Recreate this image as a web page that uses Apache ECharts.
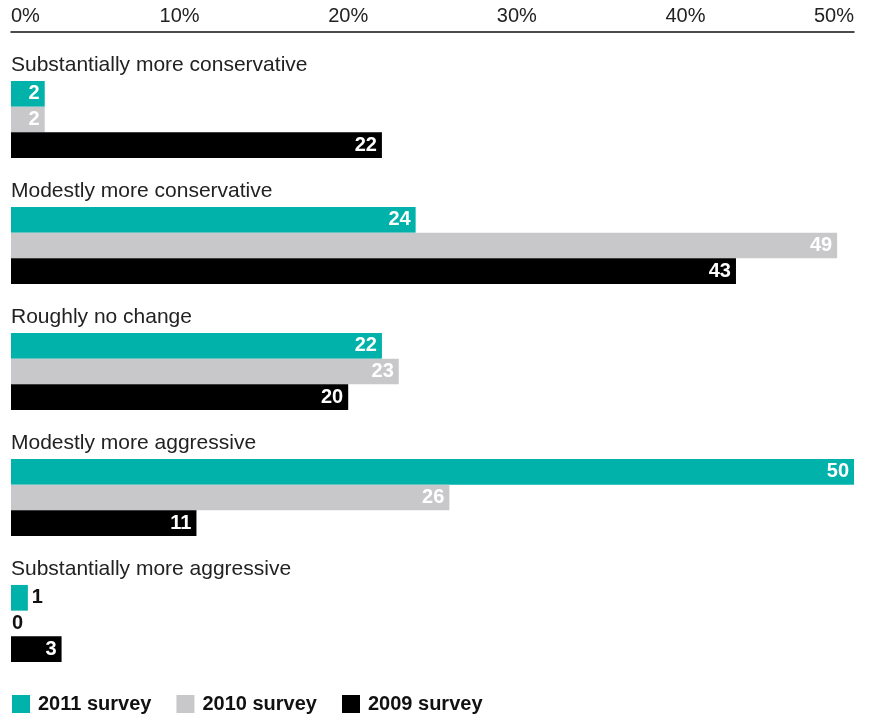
<!DOCTYPE html>
<html>
<head>
<meta charset="utf-8">
<script src="https://cdn.jsdelivr.net/npm/echarts@6/dist/echarts.min.js"></script>
<style>
  html, body { margin: 0; padding: 0; background: #fff; }
  #main { width: 869px; height: 715px; }
</style>
</head>
<body>
<div id="main"></div>
<script>
// categories, top to bottom
const categories = [
  "Substantially more conservative",
  "Modestly more conservative",
  "Roughly no change",
  "Modestly more aggressive",
  "Substantially more aggressive"
];
// values in %
const survey2011 = [2, 24, 22, 50, 1];
const survey2010 = [2, 49, 23, 26, 0];
const survey2009 = [22, 43, 20, 11, 3];
const seriesNames = ["2011 survey", "2010 survey", "2009 survey"];
const colors = ["#00b2a9", "#c8c8ca", "#000000"];

const chart = echarts.init(document.getElementById("main"));
const font = "'Liberation Sans', Arial, sans-serif";

// small values get their label outside the bar, in black
function toData(arr) {
  return arr.map((v) => {
    if (v < 2) {
      return {
        value: v,
        label: { position: "right", color: "#111", distance: v === 0 ? 1 : 4 },
      };
    }
    return v;
  });
}

const option = {
  animation: false,
  grid: { left: 11, right: 15, top: 56.5, height: 630, containLabel: false },
  legend: {
    data: seriesNames,
    left: 12,
    top: 694,
    padding: 0,
    icon: "rect",
    itemWidth: 18,
    itemHeight: 18,
    itemGap: 25,
    textStyle: { fontFamily: font, fontSize: 20, fontWeight: "bold", color: "#111", padding: [0, 0, 0, 3] },
  },
  xAxis: {
    type: "value",
    position: "top",
    offset: 24.5,
    min: 0,
    max: 50,
    interval: 10,
    axisLine: { show: true, lineStyle: { color: "#111", width: 1.5 } },
    axisTick: { show: false },
    splitLine: { show: false },
    axisLabel: {
      formatter: "{value}%",
      margin: 6,
      color: "#222",
      fontFamily: font,
      fontSize: 20,
      alignMinLabel: "left",
      alignMaxLabel: "right",
    },
  },
  yAxis: {
    type: "category",
    inverse: true,
    data: categories,
    axisLine: { show: false },
    axisTick: { show: false },
    axisLabel: {
      inside: true,
      interval: 0,
      margin: 0,
      align: "left",
      verticalAlign: "middle",
      formatter: (v) => "{t|" + v + "}\n{g|}",
      rich: {
        t: { fontFamily: font, fontSize: 21, color: "#222", lineHeight: 22 },
        g: { height: 108, lineHeight: 108 },
      },
    },
  },
  series: [survey2011, survey2010, survey2009].map((arr, i) => ({
    name: seriesNames[i],
    type: "bar",
    data: toData(arr),
    barWidth: 25.7,
    barGap: "0%",
    itemStyle: { color: colors[i] },
    label: {
      show: true,
      position: "insideRight",
      distance: 5,
      color: "#fff",
      fontFamily: font,
      fontSize: 20,
      fontWeight: "bold",
    },
  })),
};
chart.setOption(option);
</script>
</body>
</html>
